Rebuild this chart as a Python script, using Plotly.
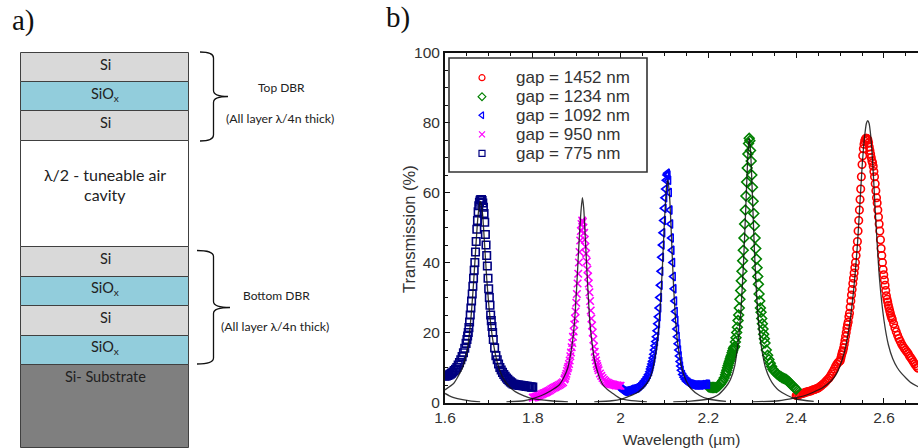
import plotly.graph_objects as go

# ---------- panel b data ----------
gap_labels = ["gap = 1452 nm", "gap = 1234 nm", "gap = 1092 nm", "gap = 950 nm", "gap = 775 nm"]

red_x = [2.4,2.403,2.406,2.409,2.412,2.415,2.418,2.421,2.424,2.427,2.43,2.433,2.436,2.439,2.442,2.445,2.448,2.451,2.454,2.457,2.46,2.463,2.466,2.469,2.472,2.475,2.478,2.481,2.484,2.487,2.49,2.493,2.496,2.499,
         2.5005,2.502,2.5035,2.505,2.5065,2.508,2.5095,2.511,2.5125,2.514,2.5155,2.517,2.5185,2.52,2.5215,2.523,2.5245,2.526,2.5275,2.529,2.5305,2.532,2.5335,2.535,2.5365,2.538,2.5395,2.541,2.5425,2.544,2.5455,2.547,2.5485,2.55,
         2.5515,2.553,2.5545,2.556,2.5575,2.559,2.5605,2.562,2.5635,2.565,2.5665,2.568,2.5695,2.571,2.5725,2.574,2.5755,2.577,2.5785,2.58,2.5815,2.583,2.5845,2.586,2.5875,2.589,2.5905,2.592,2.5935,2.595,2.5965,2.598,2.5995,2.601,2.6025,2.604,2.6055,2.607,2.6085,2.61,2.6115,2.613,2.6145,2.616,2.6175,2.619,
         2.622,2.625,2.628,2.631,2.634,2.637,2.64,2.643,2.646,2.649,2.652,2.655,2.658,2.661,2.664,2.667,2.67,2.673,2.676,2.678]
red_y = [2,2.1,2.2,2.4,2.5,2.6,2.7,2.9,3,3.1,3.2,3.3,3.5,3.6,3.7,3.9,4,4.2,4.5,4.8,5.1,5.4,5.8,6.2,6.6,7,7.6,8.2,8.9,9.6,10.4,11,11.5,11.8,
         12,12.8,13.6,14.3,14.8,15.6,16.6,17.7,18.9,20,21.2,22.2,23,24.5,25.5,27.3,29,30.7,32.3,34,35.5,37,38.5,40,42,44,46,49,52,55,58,61,64.5,68,
         70.5,72.5,73.8,74.7,75.2,75.5,75.5,75.3,75,74.2,73,72,71,70,69,68.5,67.5,66,64.5,62.5,60.5,58.5,57,55,53,51,49,46.5,44,42,40,38,36.5,35,33.5,32,30.5,29.5,28.7,27.8,27,26.2,25.5,24.8,24.2,23.7,
         22.5,21.3,20.2,19.2,18.3,17.5,16.7,16.1,15.5,15,14.5,14,13.3,12.8,12.2,11.6,11,10.5,10,9.8]

green_x = [2.2,2.203,2.206,2.209,2.212,2.215,2.218,2.221,2.224,2.227,2.23,2.233,2.236,2.239,
           2.2405,2.242,2.2435,2.245,2.2465,2.248,2.2495,2.251,2.2525,2.254,2.2555,2.257,2.2585,2.26,2.2615,2.263,2.2645,2.266,2.2675,2.269,2.2705,2.272,2.2735,2.275,2.2765,2.278,2.2795,2.281,2.2825,2.284,2.2855,2.287,2.2885,2.29,2.2915,2.293,
           2.2945,2.296,2.2975,2.299,2.3005,2.302,2.3035,2.305,2.3065,2.308,2.3095,2.311,2.3125,2.314,2.3155,2.317,2.3185,2.32,2.3215,2.323,2.3245,2.326,2.3275,2.329,
           2.332,2.335,2.338,2.341,2.344,2.347,2.35,2.353,2.356,2.359,2.362,2.365,2.368,2.371,2.374,2.377,2.38,2.383,2.386,2.389,2.392,2.395,2.398,2.40]
green_y = [4.5,4.4,4.3,4.3,4.3,4.3,4.3,4.5,4.8,5.2,5.7,6.3,7,7.9,
           8.6,9.2,9.9,10.6,11.2,11.8,12.4,13,13.5,14.2,14.8,15.4,15.8,16,17.3,18.5,20,21.5,23.4,25,27,29.5,32,34.8,37.5,40.5,43.5,47,51,55,59,63,67,71,74,75.5,
           74.8,72,69,65,61.5,57.5,54,50.5,47,44,41,38.5,36,33.8,31,29,27,25.8,24,22.5,21,19.5,18.2,17,
           15,13.5,12.3,11.2,10.3,9.5,9,8.6,8.2,7.9,7.6,7.4,7.1,6.9,6.8,6.6,6.3,6,5.5,5.1,4.7,4.4,4,3.8]

blue_x = [2,2.003,2.006,2.009,2.012,2.015,2.018,2.021,2.024,2.027,2.03,2.033,2.036,2.039,2.042,2.045,2.048,2.051,2.054,2.057,2.06,2.063,2.066,
          2.0675,2.069,2.0705,2.072,2.0735,2.075,2.0765,2.078,2.0795,2.081,2.0825,2.084,2.0855,2.087,2.0885,2.09,2.0915,2.093,2.0945,2.096,2.0975,2.099,2.1005,2.102,2.1035,2.105,2.1065,
          2.108,2.1095,2.111,2.1125,2.114,2.1155,2.117,2.1185,2.12,2.1215,2.123,2.1245,2.126,2.1275,2.129,2.1305,2.132,2.1335,2.135,2.1365,2.138,
          2.141,2.144,2.147,2.15,2.153,2.156,2.159,2.162,2.165,2.168,2.171,2.174,2.177,2.18,2.183,2.186,2.189,2.192,2.195,2.198]
blue_y = [4.2,3.7,3.4,3.2,3.2,3.3,3.4,3.5,3.7,3.8,3.9,4,4.1,4.3,4.6,5,5.3,5.7,6.2,6.7,7.3,8,8.8,
          9.6,10.2,11,11.8,12.7,13.8,15,16.2,17.4,18.8,20.5,22.5,24.5,27,30,33.5,37.5,41.5,45,48.5,52,55.5,58.5,61,63.5,65,65.5,
          65,63.5,60,55,51,47,43.5,40,36,32.5,29,26,23.5,21,18.8,16.8,15,13.3,11.7,10.4,9.2,
          8,7.2,6.6,6.1,5.8,5.5,5.3,5.2,5.1,5,5,5,5,5,5,5.1,5.1,5.2,5.2,5.2]

magenta_x = [1.8,1.803,1.806,1.809,1.812,1.815,1.818,1.821,1.824,1.827,1.83,1.833,1.836,1.839,1.842,1.845,1.848,1.851,1.854,1.857,1.86,1.863,1.866,1.869,1.872,
             1.8735,1.875,1.8765,1.878,1.8795,1.881,1.8825,1.884,1.8855,1.887,1.8885,1.89,1.8915,1.893,1.8945,1.896,1.8975,1.899,1.9005,1.902,1.9035,1.905,1.9065,1.908,1.9095,1.911,1.9125,
             1.914,1.9155,1.917,1.9185,1.92,1.9215,1.923,1.9245,1.926,1.9275,1.929,1.9305,1.932,1.9335,1.935,1.9365,1.938,1.9395,1.941,1.9425,1.944,1.9455,1.947,1.9485,1.95,
             1.953,1.956,1.959,1.962,1.965,1.968,1.971,1.974,1.977,1.98,1.983,1.986,1.989,1.992,1.995,1.998,2.0]
magenta_y = [1.4,1.5,1.6,1.7,1.9,2,2.2,2.4,2.6,2.7,2.9,3.1,3.3,3.5,3.8,4,4.2,4.4,4.6,4.8,5,5.2,5.5,5.8,6.6,
             7,7.6,8.2,9,9.7,10.2,11,12,13.2,14.3,15.8,17,18.8,20.3,22.3,24,26,28.5,31,34,36.8,40,43,46.3,49,51,52,
             51.6,50,48.5,46.5,44.5,42.5,40.3,38,36,34,31.5,29,26.3,24,22,20,18,16,14.5,13,12,11,10.4,9.8,9.2,
             8.3,7.6,7,6.5,6.1,5.8,5.6,5.4,5.3,5.2,5.1,5,4.9,4.9,4.8,4.8,4.8]

navy_x = [1.6,1.603,1.606,1.609,1.612,1.615,1.618,1.621,1.624,1.627,1.63,1.633,1.636,1.639,1.642,1.645,1.648,
          1.65,1.6515,1.653,1.6545,1.656,1.6575,1.659,1.6605,1.662,1.6635,1.665,1.6665,1.668,1.6695,1.671,1.6725,1.674,1.6755,1.677,1.6785,1.68,1.6815,
          1.683,1.6845,1.686,1.6875,1.689,1.6905,1.692,1.6935,1.695,1.6965,1.698,1.6995,1.701,1.7025,1.704,1.7055,1.707,1.7085,1.71,
          1.713,1.716,1.719,1.722,1.725,1.728,1.731,1.734,1.737,1.74,1.743,1.746,1.749,1.752,1.755,1.758,1.761,1.764,1.767,1.77,1.773,1.776,1.779,1.782,1.785,1.788,1.791,1.794,1.797,1.8]
navy_y = [7.5,7.6,7.7,7.9,8.1,8.4,8.7,9.1,9.5,10,10.7,11.4,12.2,13.1,14.2,15.5,16.9,
          18,19,20,21.4,23,25,27,29,31,33.2,35.5,37.8,40,43,46,49.5,52,54.5,56.2,57.2,57.8,58,
          58,57.7,57,55.8,54,51.5,48,45,42,39,35.5,32.5,30,27.8,25,23.4,21.7,20,18,
          15.6,13.4,12.2,11,10,9.3,8.6,8,7.5,7,6.6,6.2,5.9,5.6,5.3,5.2,5.1,5,5,4.9,4.9,4.8,4.8,4.7,4.6,4.6,4.5,4.5,4.4,4.4]

# fitted curves (black)
fit1_x = [1.60,1.62,1.63,1.64,1.65,1.655,1.66,1.665,1.67,1.675,1.68,1.685,1.69,1.695,1.70,1.705,1.71,1.72,1.73,1.74,1.75,1.76,1.78,1.80,1.84,1.88]
fit1_y = [3.6,5.5,7.5,10,14.5,19,25.5,34,44,53,57.5,54.5,45.5,35.5,27.5,21.5,17,11,7.5,5.5,4.1,3.1,1.9,1.1,0.5,0.2]
fit2_x = [1.74,1.78,1.80,1.82,1.84,1.86,1.87,1.88,1.89,1.895,1.90,1.905,1.91,1.913,1.916,1.92,1.925,1.93,1.935,1.94,1.95,1.96,1.97,1.98,2.00,2.02,2.06]
fit2_y = [0.2,0.5,1.1,2,3.3,5,7,10,17,23,33,45,55,58.5,55.5,46,33.5,23,17,12.5,7.8,5,3.7,2.8,1.1,0.6,0.2]
fit3_x = [1.94,1.98,2.00,2.02,2.04,2.06,2.07,2.08,2.085,2.09,2.095,2.10,2.105,2.108,2.112,2.115,2.12,2.125,2.13,2.14,2.15,2.16,2.18,2.20,2.24]
fit3_y = [0.2,0.5,0.9,1.8,3,5.5,8,14,19,27,38,52,62,63.5,58,50,35,24,17,9.5,6,4,2,1,0.3]
fit4_x = [2.12,2.16,2.20,2.22,2.24,2.25,2.26,2.27,2.275,2.28,2.285,2.29,2.293,2.296,2.30,2.305,2.31,2.315,2.32,2.33,2.34,2.35,2.36,2.38,2.40,2.44]
fit4_y = [0.2,0.4,1,2,4.5,6.5,10.5,20,28,40,55,71,75.5,72,60,43,30.5,22,16.5,10,6.8,4.8,3.5,2,1,0.3]
fit5_x = [2.30,2.36,2.40,2.42,2.44,2.46,2.48,2.49,2.50,2.51,2.52,2.53,2.54,2.55,2.555,2.56,2.563,2.566,2.57,2.575,2.58,2.59,2.60,2.61,2.62,2.63,2.64,2.65,2.66,2.678]
fit5_y = [0.2,0.5,1.4,2,3,4.2,6.2,7.8,10.5,14.5,21,31,46,67,75,79.8,80.5,79.8,76,67,55,35,23.5,16.5,12.5,10,8.3,7,5.8,4.5]
fit0_x = [1.60,1.61,1.62,1.64,1.66,1.68]
fit0_y = [2.6,1.9,1.4,0.8,0.4,0.2]

y_major = [0, 20, 40, 60, 80, 100]
y_major_text = ["0", "20", "40", "60", "80", "100"]
x_major = [1.6, 1.8, 2.0, 2.2, 2.4, 2.6]
x_major_text = ["1.6", "1.8", "2", "2.2", "2.4", "2.6"]

# ---------- panel a data ----------
layer_names = ["Si", "SiOx", "Si", "air", "Si", "SiOx", "Si", "SiOx", "Substrate"]
layer_thickness = [29.5, 28.5, 30.5, 105.5, 30, 29, 30, 29.5, 83]
layer_colors = {"Si": "#d9d9d9", "SiOx": "#92cddc", "air": "#ffffff", "Substrate": "#7f7f7f"}

W, H = 918, 448
fig = go.Figure()

top = 52.5
for name, t in zip(layer_names, layer_thickness):
    fig.add_trace(go.Bar(x=[105], y=[t], base=[top], width=[168], xaxis="x2", yaxis="y2",
                         marker=dict(color=layer_colors[name], line=dict(color="#404040", width=1)),
                         showlegend=False, hoverinfo="skip"))
    top += t

styles = [
    (red_x, red_y, "circle-open", "#ff0000"),
    (green_x, green_y, "diamond-open", "#008000"),
    (blue_x, blue_y, "triangle-left-open", "#0000ff"),
    (magenta_x, magenta_y, "x-thin-open", "#ff00ff"),
    (navy_x, navy_y, "square-open", "#000080"),
]
for label, (xs, ys, sym, col) in zip(gap_labels, styles):
    fig.add_trace(go.Scatter(x=xs, y=ys, mode="markers", name=label, xaxis="x", yaxis="y", showlegend=False,
                             marker=dict(symbol=sym, size=7.5, color=col, line=dict(color=col, width=1.6))))

for xs, ys in [(fit0_x, fit0_y), (fit1_x, fit1_y), (fit2_x, fit2_y), (fit3_x, fit3_y), (fit4_x, fit4_y), (fit5_x, fit5_y)]:
    fig.add_trace(go.Scatter(x=xs, y=ys, mode="lines", xaxis="x", yaxis="y", showlegend=False,
                             line=dict(color="rgba(20,20,20,0.85)", width=1.3, shape="spline", smoothing=0.6)))

CAL = "Lato, 'Open Sans', sans-serif"
SERIF = "'Liberation Serif', serif"
SANS = "'Liberation Sans', Arial, sans-serif"
TICK = "#333333"
ann = []
def note(x, y, text, size, family=CAL, color="#222222", anchor="center", angle=0):
    ann.append(dict(x=x, y=y, xref="x2", yref="y2", text=text, showarrow=False, textangle=angle,
                    xanchor=anchor, yanchor="middle", font=dict(size=size, family=family, color=color)))

note(23, 20, "a)", 29, SERIF, "#111111")
note(398, 17, "b)", 29, SERIF, "#111111")
for y, t in [(64, "Si"), (94, "SiO<sub>x</sub>"), (122, "Si"), (258, "Si"), (288, "SiO<sub>x</sub>"), (317, "Si"), (347, "SiO<sub>x</sub>")]:
    note(105, y, t, 14.5)
note(105, 174, "λ/2 - tuneable air", 16)
note(105, 194, "cavity", 16)
note(105, 376, "Si- Substrate", 14.5)
note(281, 87, "Top DBR", 12)
note(280, 118, "(All layer λ/4n thick)", 12.3)
note(276, 295, "Bottom DBR", 12)
note(275, 326, "(All layer λ/4n thick)", 12.3)
note(409, 229, "Transmission (%)", 16.5, SANS, TICK, angle=-90)

# legend, drawn by hand because its rows are tighter than a native legend allows
legend_rows = [77.7, 96.7, 115.3, 134.3, 153.3]
for label, (_, _, sym, col), row in zip(gap_labels, styles, legend_rows):
    fig.add_trace(go.Scatter(x=[482], y=[row], mode="markers", xaxis="x2", yaxis="y2", showlegend=False, hoverinfo="skip",
                             marker=dict(symbol=sym, size=6, color=col, line=dict(color=col, width=1.2))))
    note(514, row, label, 17, SANS, TICK, anchor="left")

def brace(x0, xm, tip, y0, ymid, y1):
    return (f"M {x0} {y0} Q {xm} {y0} {xm} {y0+6} L {xm} {ymid-6} Q {xm} {ymid} {tip} {ymid} "
            f"Q {xm} {ymid} {xm} {ymid+6} L {xm} {y1-6} Q {xm} {y1} {x0} {y1}")

shapes = [
    dict(type="path", xref="x2", yref="y2", path=brace(200, 213.5, 228, 52, 96.5, 141),
         line=dict(color="#111111", width=1.3)),
    dict(type="path", xref="x2", yref="y2", path=brace(197, 213.5, 230, 250.5, 307.5, 364),
         line=dict(color="#111111", width=1.3)),
    dict(type="rect", xref="x2", yref="y2", x0=449, x1=647, y0=58, y1=172,
         line=dict(color="#333333", width=1.6)),
]

fig.update_layout(
    width=W, height=H, margin=dict(l=0, r=0, t=0, b=0, autoexpand=False),
    paper_bgcolor="white", plot_bgcolor="rgba(0,0,0,0)", bargap=0, showlegend=False,
    font=dict(family=SANS, size=15, color=TICK),
    annotations=ann, shapes=shapes,
    xaxis=dict(domain=[445 / W, 1], range=[1.6, 2.6775], tickvals=x_major, ticktext=x_major_text,
               ticks="inside", ticklen=5, tickwidth=1, tickcolor="#111111", automargin=False,
               minor=dict(dtick=0.05, tick0=1.6, ticks="inside", ticklen=3, tickwidth=1, tickcolor="#111111"),
               showgrid=False, zeroline=False, showline=True, linewidth=2, linecolor="#111111", mirror="ticks",
               title=dict(text="Wavelength (µm)", font=dict(size=15.5, color=TICK)),
               tickfont=dict(size=15.5, color=TICK), anchor="y"),
    yaxis=dict(domain=[1 - 402.5 / H, 1 - 52.5 / H], range=[0, 100], tickvals=y_major, ticktext=y_major_text,
               ticks="inside", ticklen=5, tickwidth=1, tickcolor="#111111", automargin=False,
               minor=dict(dtick=5, tick0=0, ticks="inside", ticklen=3, tickwidth=1, tickcolor="#111111"),
               showgrid=False, zeroline=False, showline=True, linewidth=2, linecolor="#111111", mirror=False,
               tickfont=dict(size=15.5, color=TICK), anchor="x"),
    xaxis2=dict(domain=[0, 1], range=[0, W], visible=False, anchor="y2", fixedrange=True, automargin=False),
    yaxis2=dict(domain=[0, 1], range=[H, 0], visible=False, anchor="x2", fixedrange=True, automargin=False),
)
fig.write_html("out.html", config=dict(displayModeBar=False),
               post_script="document.body.style.margin='0';document.body.style.overflow='hidden';")
